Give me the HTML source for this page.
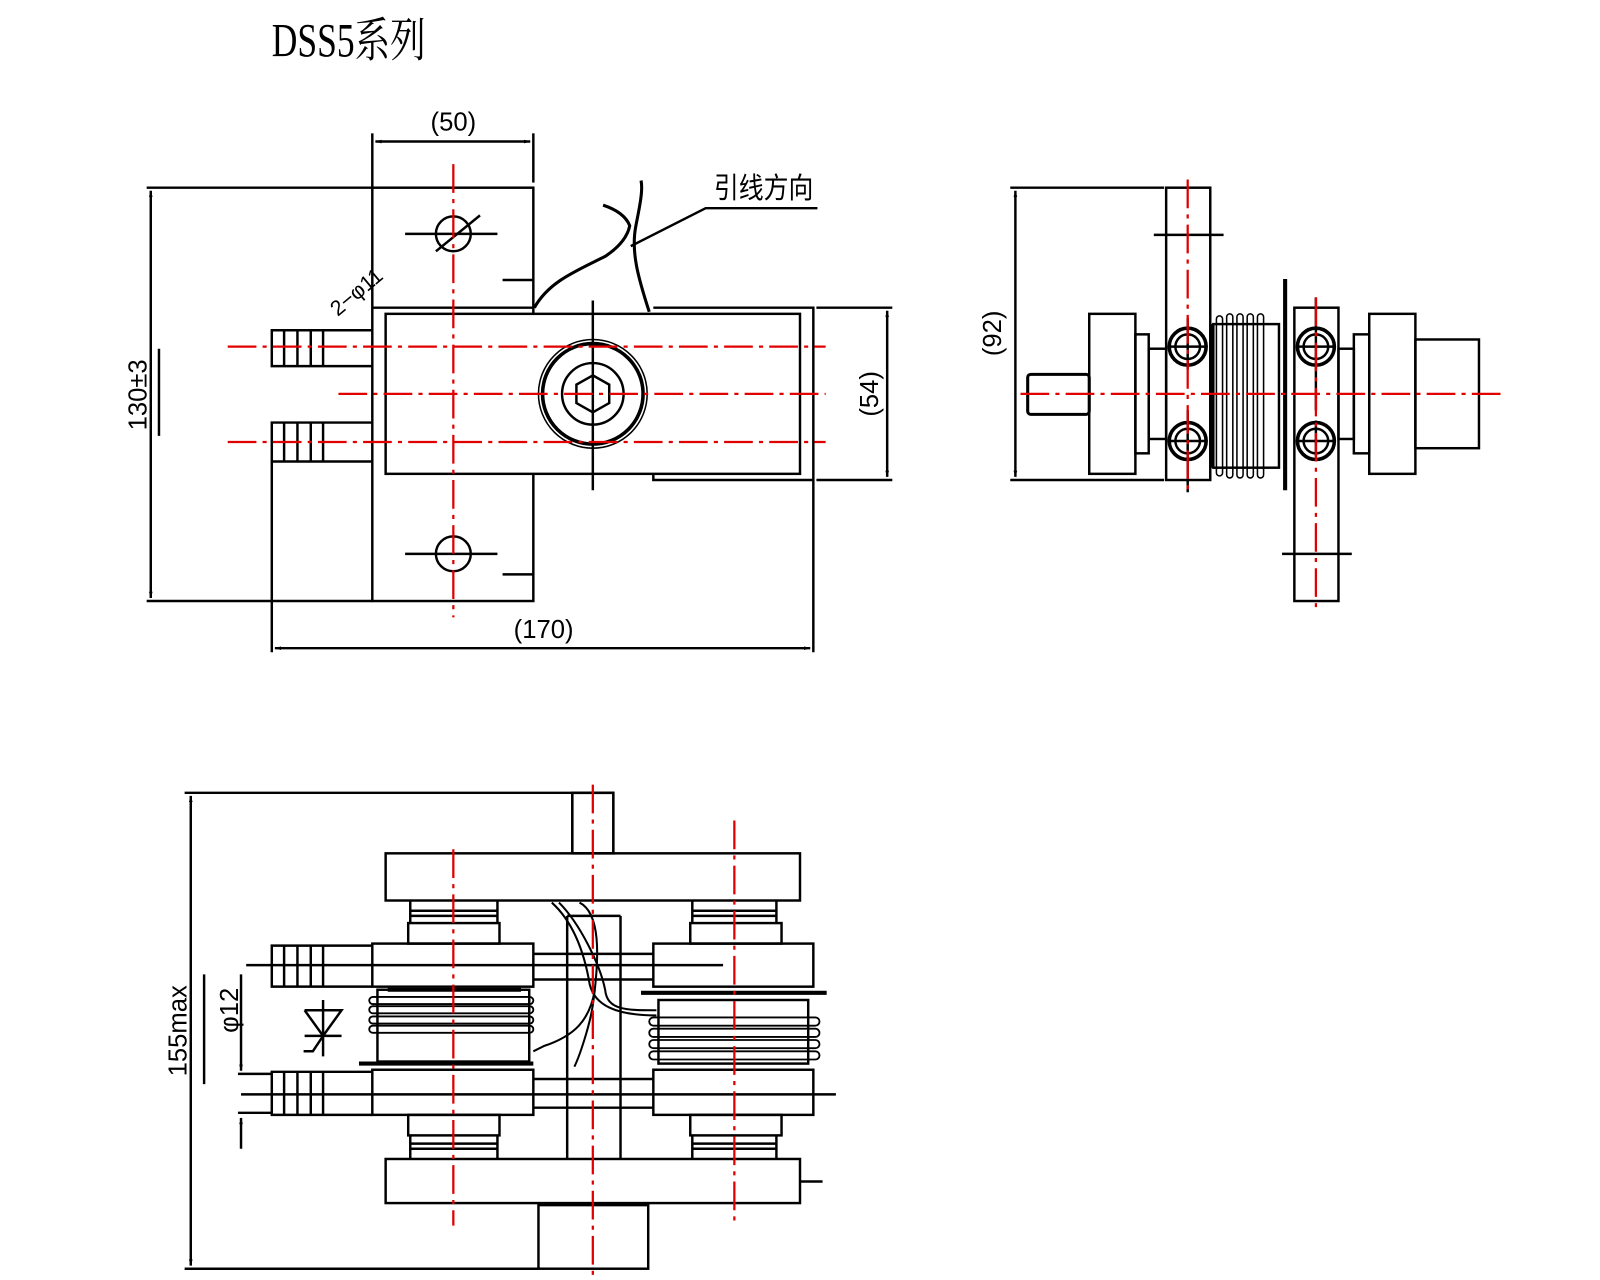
<!DOCTYPE html>
<html><head><meta charset="utf-8"><style>
html,body{margin:0;padding:0;background:#fff}
svg{display:block}
text{font-family:"Liberation Sans","Noto Sans CJK SC",sans-serif;fill:#000}
</style></head><body>
<svg width="1600" height="1280" viewBox="0 0 1560 1248" xmlns="http://www.w3.org/2000/svg">
<defs>
<marker id="a" viewBox="0 0 10 10" refX="10" refY="5" markerWidth="12" markerHeight="6" orient="auto-start-reverse" markerUnits="userSpaceOnUse"><path d="M0,2 L10,5 L0,8z" fill="#000"/></marker>
</defs>
<g fill="none" stroke="#000" stroke-width="2.4">
<text x="265" y="55" style="font-family:'Liberation Serif','Noto Serif CJK SC',serif" font-size="46" textLength="150" lengthAdjust="spacingAndGlyphs" stroke="none">DSS5系列</text>

<line x1="363" y1="130" x2="363" y2="183"/><line x1="520" y1="130" x2="520" y2="178"/>
<line x1="366" y1="138" x2="517" y2="138" marker-start="url(#a)" marker-end="url(#a)"/>
<text x="442" y="127" font-size="25" text-anchor="middle" stroke="none">(50)</text>
<line x1="143" y1="183" x2="363" y2="183"/><line x1="143" y1="586" x2="363" y2="586"/>
<line x1="147" y1="186" x2="147" y2="583" marker-start="url(#a)" marker-end="url(#a)"/>
<text transform="translate(143,385) rotate(-90)" font-size="25" text-anchor="middle" stroke="none">130±3</text>
<line x1="155" y1="340" x2="155" y2="425"/>
<rect x="363" y="183" width="157" height="403"/>
<circle cx="442" cy="228" r="17"/><line x1="395" y1="228" x2="485" y2="228"/><line x1="425" y1="245" x2="468" y2="210"/>
<circle cx="442" cy="540" r="17"/><line x1="395" y1="540" x2="485" y2="540"/>
<line x1="490" y1="273" x2="520" y2="273"/><line x1="490" y1="560" x2="520" y2="560"/>
<text transform="translate(352,290) rotate(-40)" font-size="21" text-anchor="middle" stroke="none">2−φ11</text>
<path d="M363,300 H520 M637,300 H793 V468 H637 V462"/>
<rect x="376" y="306" width="404" height="156" fill="#fff"/>
<path d="M363,322 H265 V357 H363 M277,322V357 M290,322V357 M303,322V357 M315,322V357"/>
<path d="M363,412 H265 V450 H363 M277,412V450 M290,412V450 M303,412V450 M315,412V450"/>
<line x1="265" y1="450" x2="265" y2="636"/><line x1="793" y1="468" x2="793" y2="636"/>
<line x1="268" y1="632" x2="790" y2="632" marker-start="url(#a)" marker-end="url(#a)"/>
<text x="530" y="622" font-size="25" text-anchor="middle" stroke="none">(170)</text>
<line x1="796" y1="300" x2="870" y2="300"/><line x1="796" y1="468" x2="870" y2="468"/>
<line x1="865" y1="303" x2="865" y2="465" marker-start="url(#a)" marker-end="url(#a)"/>
<text transform="translate(856,384) rotate(-90)" font-size="25" text-anchor="middle" stroke="none">(54)</text>
<circle cx="578" cy="384" r="53" stroke-width="1.5"/><circle cx="578" cy="384" r="49" stroke-width="3.5"/>
<circle cx="578" cy="384" r="30"/>
<polygon points="578,366 594,375 594,393 578,402 562,393 562,375"/>
<line x1="578" y1="293" x2="578" y2="478"/>
<path d="M521,300 C535,275 560,265 590,250 C605,240 612,230 614,220 C610,210 600,204 588,200" stroke-width="3"/>
<path d="M633,304 C622,270 615,245 620,220 C624,200 627,185 625,176" stroke-width="3"/>
<path d="M615,240 L688,203 H797"/>
<text x="696" y="193" font-size="28" textLength="97" lengthAdjust="spacingAndGlyphs" stroke="none">引线方向</text>

<line x1="985" y1="183" x2="1135" y2="183"/><line x1="985" y1="468" x2="1135" y2="468"/>
<line x1="990" y1="186" x2="990" y2="465" marker-start="url(#a)" marker-end="url(#a)"/>
<text transform="translate(976,325) rotate(-90)" font-size="25" text-anchor="middle" stroke="none">(92)</text>
<rect x="1137" y="183" width="43" height="285"/>
<line x1="1125" y1="229" x2="1193" y2="229"/>
<rect x="1262" y="300" width="43" height="286"/>
<line x1="1250" y1="540" x2="1318" y2="540"/>
<rect x="1062" y="306" width="45" height="156"/>
<rect x="1002" y="365" width="60" height="39" rx="3" stroke-width="3"/>
<rect x="1107" y="326" width="13" height="116"/><rect x="1120" y="340" width="17" height="88"/>
<rect x="1335" y="306" width="45" height="156"/><rect x="1380" y="331" width="62" height="106"/>
<rect x="1305" y="340" width="15" height="88"/><rect x="1320" y="326" width="15" height="116"/>
<rect x="1183" y="316" width="64" height="140"/>
<g stroke-width="1.5">
<rect x="1186" y="308" width="6" height="156" rx="3"/><rect x="1196" y="306" width="6" height="160" rx="3"/>
<rect x="1206" y="306" width="6" height="160" rx="3"/><rect x="1216" y="306" width="6" height="160" rx="3"/>
<rect x="1226" y="306" width="6" height="160" rx="3"/>
</g>
<line x1="1253" y1="272" x2="1253" y2="478" stroke-width="4"/>
<line x1="1181" y1="316" x2="1181" y2="456" stroke-width="3"/>
<circle cx="1158" cy="338" r="18" stroke-width="3.5"/><circle cx="1158" cy="338" r="12"/>
<circle cx="1158" cy="430" r="18" stroke-width="3.5"/><circle cx="1158" cy="430" r="12"/>
<circle cx="1283" cy="338" r="18" stroke-width="3.5"/><circle cx="1283" cy="338" r="12"/>
<circle cx="1283" cy="430" r="18" stroke-width="3.5"/><circle cx="1283" cy="430" r="12"/>
<path d="M1140,338H1176 M1140,430H1176 M1265,338H1301 M1265,430H1301"/>
<path d="M1158,310V360 M1158,400V480 M1283,290V400 M1283,410V445"/>

<line x1="180" y1="773" x2="598" y2="773"/><line x1="180" y1="1237" x2="525" y2="1237"/>
<line x1="186" y1="776" x2="186" y2="1234" marker-start="url(#a)" marker-end="url(#a)"/>
<text transform="translate(182,1005) rotate(-90)" font-size="25" text-anchor="middle" stroke="none">155max</text>
<line x1="199" y1="950" x2="199" y2="1057"/>
<line x1="235" y1="950" x2="235" y2="1044" marker-end="url(#a)"/>
<line x1="235" y1="1120" x2="235" y2="1090" marker-end="url(#a)"/>
<text transform="translate(232,985) rotate(-90)" font-size="25" text-anchor="middle" stroke="none">φ12</text>
<rect x="558" y="773" width="40" height="59" stroke-width="2.5"/>
<rect x="376" y="832" width="404" height="46"/>
<rect x="376" y="1130" width="404" height="43"/>
<line x1="780" y1="1152" x2="802" y2="1152"/>
<rect x="525" y="1175" width="107" height="62"/>
<line x1="553" y1="893" x2="553" y2="1130"/><line x1="605" y1="893" x2="605" y2="1130"/>
<line x1="553" y1="893" x2="605" y2="893"/>
<path d="M400,878 V900 M485,878 V900 M400,888H485 M400,893H485" />
<rect x="398" y="900" width="89" height="20"/>
<rect x="363" y="920" width="157" height="42"/>
<rect x="363" y="1043" width="157" height="44"/>
<rect x="398" y="1087" width="89" height="20"/>
<path d="M400,1107 V1130 M485,1107 V1130 M400,1115H485 M400,1120H485"/>
<rect x="368" y="965" width="148" height="70" fill="#fff"/>
<g stroke-width="1.8">
<rect x="360" y="972" width="160" height="7" rx="3.5"/><rect x="360" y="981" width="160" height="7" rx="3.5"/>
<rect x="360" y="991" width="160" height="7" rx="3.5"/><rect x="360" y="1000" width="160" height="7" rx="3.5"/>
</g>
<line x1="378" y1="965" x2="508" y2="965" stroke-width="4"/>
<line x1="350" y1="1037" x2="520" y2="1037" stroke-width="4"/>
<path d="M675,878 V900 M757,878 V900 M675,888H757 M675,893H757"/>
<rect x="673" y="900" width="89" height="20"/>
<rect x="637" y="920" width="156" height="42"/>
<rect x="637" y="1043" width="156" height="44"/>
<rect x="673" y="1087" width="89" height="20"/>
<path d="M675,1107 V1130 M757,1107 V1130 M675,1115H757 M675,1120H757"/>
<rect x="642" y="975" width="146" height="62" fill="#fff"/>
<g stroke-width="1.8">
<rect x="633" y="992" width="166" height="8" rx="4"/><rect x="633" y="1003" width="166" height="8" rx="4"/>
<rect x="633" y="1014" width="166" height="8" rx="4"/><rect x="633" y="1025" width="166" height="8" rx="4"/>
</g>
<line x1="625" y1="968" x2="806" y2="968" stroke-width="4"/>
<path d="M520,930H637 M520,955H637 M520,1052H637 M520,1080H637"/>
<path d="M363,922 H265 V962 H363 M277,922V962 M290,922V962 M303,922V962 M315,922V962"/>
<path d="M363,1045 H265 V1087 H363 M277,1045V1087 M290,1045V1087 M303,1045V1087 M315,1045V1087"/>
<line x1="232" y1="1047" x2="265" y2="1047"/><line x1="232" y1="1085" x2="265" y2="1085"/>
<line x1="240" y1="941" x2="705" y2="941"/>
<line x1="235" y1="1067" x2="815" y2="1067"/>
<path d="M538,880 C560,900 570,930 575,960 C580,980 600,990 640,990" stroke-width="2"/>
<path d="M545,880 C565,900 585,940 590,965 C592,985 610,985 640,985" stroke-width="2"/>
<path d="M565,880 C585,890 585,930 578,980 C575,1000 565,1030 560,1040" stroke-width="2"/>
<path d="M580,965 C575,995 560,1010 530,1020 L520,1025" stroke-width="2"/>
<path d="M315,975V1030 M297,985H333 L315,1010 L297,985 M297,1010H333 M315,1010 L305,1025 H296"/>
</g>
<g stroke="#e00000" stroke-width="2.2" stroke-dasharray="28,6,4,6" fill="none">
<line x1="442" y1="160" x2="442" y2="602"/>
<line x1="222" y1="338" x2="805" y2="338"/>
<line x1="222" y1="431" x2="805" y2="431"/>
<line x1="330" y1="384" x2="805" y2="384"/>
<line x1="1158" y1="175" x2="1158" y2="482"/>
<line x1="1283" y1="290" x2="1283" y2="596"/>
<line x1="995" y1="384" x2="1465" y2="384"/>
<line x1="442" y1="828" x2="442" y2="1195"/>
<line x1="716" y1="800" x2="716" y2="1195"/>
<line x1="578" y1="765" x2="578" y2="1250"/>
</g>
</svg>
</body></html>
